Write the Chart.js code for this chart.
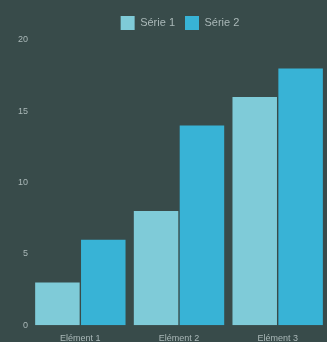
<!DOCTYPE html>
<html>
<head>
<meta charset="utf-8">
<script src="https://cdn.jsdelivr.net/npm/chart.js@4/dist/chart.umd.min.js"></script>
<style>
  html, body { margin: 0; padding: 0; background: #384b4a; }
  #wrap { width: 327px; height: 342px; }
</style>
</head>
<body>
<div id="wrap"><canvas id="myChart"></canvas></div>
<script>
const categories = ['Elément 1', 'Elément 2', 'Elément 3']
const serie1 = [3, 8, 16]
const serie2 = [6, 14, 18]
const yTicks = [0, 5, 10, 15, 20]

// décale un peu la légende vers la droite
const legendShift = {
    id: 'legendShift',
    afterLayout: chart => {
        chart.legend.left += 9
        chart.legend.right += 9
    }
}

var ctx = document.getElementById('myChart')
var myChart = new Chart(ctx, {
    type: 'bar',
    data: {
        labels: categories,
        datasets: [{
            label: 'Série 1',
            data: serie1,
            backgroundColor: '#7fcbd8',
            borderWidth: 0
        }, {
            label: 'Série 2',
            data: serie2,
            backgroundColor: '#38b3d6',
            borderWidth: 0
        }]
    },
    plugins: [legendShift],
    options: {
        maintainAspectRatio: false,
        animation: false,
        layout: { padding: { left: 15, right: 0, top: 6, bottom: -2 } },
        plugins: {
            legend: {
                labels: { color: '#aab8b8', font: { size: 11 }, boxWidth: 14, boxHeight: 14, padding: 10 }
            },
            tooltip: { enabled: false }
        },
        datasets: {
            bar: { categoryPercentage: 0.93, barPercentage: 0.97 }
        },
        scales: {
            x: {
                grid: { display: false },
                border: { display: false },
                ticks: { color: '#aab8b8', font: { size: 9 }, padding: 0 }
            },
            y: {
                min: 0,
                max: 20,
                afterBuildTicks: axis => { axis.ticks = yTicks.map(v => ({ value: v })) },
                grid: { display: false, drawTicks: false },
                border: { display: false },
                ticks: { color: '#aab8b8', font: { size: 9 }, padding: 3 }
            }
        }
    }
})
</script>
</body>
</html>
